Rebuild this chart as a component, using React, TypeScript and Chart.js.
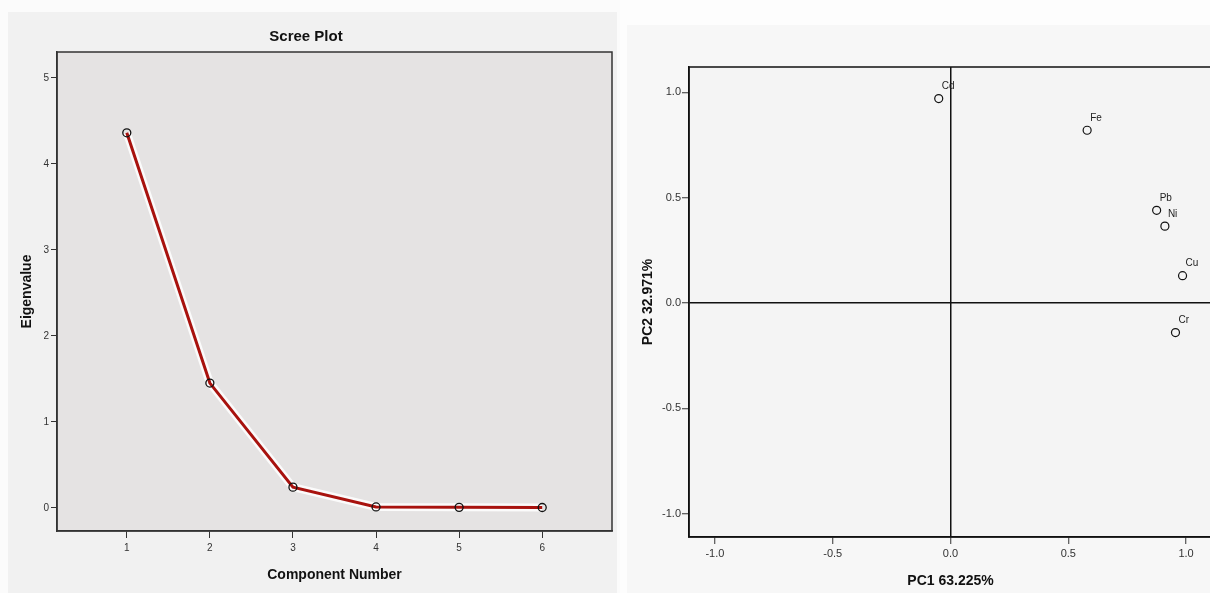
import React, { useEffect, useRef } from "react";
import { Chart, registerables } from "chart.js";

Chart.register(...registerables);

// ---- Scree plot data ----
const components = [1, 2, 3, 4, 5, 6];
const eigenvalues = [4.36, 1.45, 0.24, 0.01, 0.005, 0.003];
const screeXTicks = [1, 2, 3, 4, 5, 6];
const screeYTicks = [0, 1, 2, 3, 4, 5];

// ---- Loading plot data ----
const elements = ["Cd", "Fe", "Pb", "Ni", "Cu", "Cr"];
const pc1 = [-0.05, 0.58, 0.875, 0.91, 0.985, 0.955];
const pc2 = [0.97, 0.82, 0.44, 0.365, 0.13, -0.14];
const loadingTicks = [-1.0, -0.5, 0.0, 0.5, 1.0];

const FONT = "'Liberation Sans Narrow', 'Liberation Sans', Arial, sans-serif";
const FONT_B = "'Liberation Sans', Arial, sans-serif";

const screeBg = {
  id: "screeBg",
  beforeDraw(chart: any) {
    const { ctx, chartArea: a, width, height } = chart;
    ctx.save();
    ctx.fillStyle = "#fbfbfb";
    ctx.fillRect(0, 0, width, height);
    ctx.fillStyle = "#f1f1f1";
    ctx.fillRect(8, 12, 609, height - 12);
    ctx.fillStyle = "#e5e3e3";
    ctx.fillRect(a.left, a.top, a.right - a.left, a.bottom - a.top);
    ctx.restore();
  },
  afterDraw(chart: any) {
    const { ctx, chartArea: a } = chart;
    ctx.save();
    ctx.strokeStyle = "#333";
    ctx.lineWidth = 1.5;
    ctx.strokeRect(a.left, a.top, a.right - a.left, a.bottom - a.top);
    ctx.restore();
  },
};

const loadBg = {
  id: "loadBg",
  beforeDraw(chart: any) {
    const { ctx, chartArea: a, width, height } = chart;
    ctx.save();
    ctx.fillStyle = "#fdfdfd";
    ctx.fillRect(0, 0, width, height);
    ctx.fillStyle = "#f7f7f7";
    ctx.fillRect(7, 25, width - 7, height - 25);
    ctx.fillStyle = "#f4f4f4";
    ctx.fillRect(a.left, a.top, a.right - a.left, a.bottom - a.top);
    ctx.restore();
  },
  afterDraw(chart: any) {
    const { ctx, chartArea: a } = chart;
    ctx.save();
    ctx.strokeStyle = "#111";
    ctx.lineWidth = 1.5;
    ctx.strokeRect(a.left, a.top, a.right - a.left, a.bottom - a.top);
    ctx.restore();
  },
};

const pointLabels = {
  id: "pointLabels",
  afterDatasetsDraw(chart: any) {
    const { ctx } = chart;
    const meta = chart.getDatasetMeta(0);
    ctx.save();
    ctx.font = `10px ${FONT}`;
    ctx.fillStyle = "#222";
    ctx.textAlign = "left";
    ctx.textBaseline = "middle";
    meta.data.forEach((pt: any, i: number) => {
      ctx.fillText(elements[i], pt.x + 3, pt.y - 12);
    });
    ctx.restore();
  },
};

export default function App() {
  const leftRef = useRef<HTMLCanvasElement>(null);
  const rightRef = useRef<HTMLCanvasElement>(null);

  useEffect(() => {
    const screeData = components.map((c, i) => ({ x: c, y: eigenvalues[i] }));
    const left = new Chart(leftRef.current as HTMLCanvasElement, {
      type: "line",
      data: {
        datasets: [
          {
            data: screeData,
            borderColor: "#a8120e",
            borderWidth: 3,
            pointRadius: 4,
            pointBorderColor: "#111",
            pointBorderWidth: 1.3,
            pointBackgroundColor: "rgba(0,0,0,0)",
            tension: 0,
          },
          {
            data: screeData,
            borderColor: "rgba(255,255,255,0.85)",
            borderWidth: 8,
            pointRadius: 0,
            tension: 0,
          },
        ],
      },
      options: {
        animation: false,
        responsive: false,
        devicePixelRatio: 1,
        layout: { padding: { top: 12, left: 0, right: 8, bottom: 0 } },
        plugins: {
          legend: { display: false },
          tooltip: { enabled: false },
          title: {
            display: true,
            text: "Scree Plot",
            font: { size: 15, weight: "bold", family: FONT_B },
            color: "#111",
            padding: { top: 16, bottom: 6 },
          },
        },
        scales: {
          x: {
            type: "linear",
            min: 0.16,
            max: 6.84,
            afterBuildTicks: (s: any) => {
              s.ticks = screeXTicks.map((v) => ({ value: v }));
            },
            afterFit: (s: any) => {
              s.height = 62;
            },
            ticks: {
              font: { size: 10, family: FONT },
              color: "#333",
              padding: 4,
              maxRotation: 0,
              callback: (v: any) => String(v),
            },
            grid: {
              drawOnChartArea: false,
              drawTicks: true,
              tickLength: 7,
              tickColor: "#333",
              tickWidth: 1,
            },
            border: { display: true, color: "#333", width: 1.5 },
            title: {
              display: true,
              text: "Component Number",
              font: { size: 14, weight: "bold", family: FONT_B },
              color: "#111",
              padding: { top: 0, bottom: 9.6 },
            },
          },
          y: {
            type: "linear",
            min: -0.27,
            max: 5.3,
            afterBuildTicks: (s: any) => {
              s.ticks = screeYTicks.map((v) => ({ value: v }));
            },
            afterFit: (s: any) => {
              s.width = 57;
            },
            ticks: {
              font: { size: 10, family: FONT },
              color: "#333",
              padding: 2,
              callback: (v: any) => String(v),
            },
            grid: {
              drawOnChartArea: false,
              drawTicks: true,
              tickLength: 6,
              tickColor: "#333",
              tickWidth: 1,
            },
            border: { display: true, color: "#333", width: 1.5 },
            title: {
              display: true,
              text: "Eigenvalue",
              font: { size: 14, weight: "bold", family: FONT_B },
              color: "#111",
              padding: { top: 18.6, bottom: 0 },
            },
          },
        },
      } as any,
      plugins: [screeBg],
    });

    const loadData = pc1.map((x, i) => ({ x, y: pc2[i] }));
    const right = new Chart(rightRef.current as HTMLCanvasElement, {
      type: "scatter",
      data: {
        datasets: [
          {
            data: loadData,
            pointRadius: 4,
            pointBorderColor: "#111",
            pointBorderWidth: 1.2,
            pointBackgroundColor: "rgba(0,0,0,0)",
          },
        ],
      },
      options: {
        animation: false,
        responsive: false,
        devicePixelRatio: 1,
        layout: { padding: { top: 67, left: 0, right: 8, bottom: 0 } },
        plugins: {
          legend: { display: false },
          tooltip: { enabled: false },
        },
        scales: {
          x: {
            type: "linear",
            min: -1.11,
            max: 1.11,
            afterBuildTicks: (s: any) => {
              s.ticks = loadingTicks.map((v) => ({ value: v }));
            },
            afterFit: (s: any) => {
              s.height = 56;
            },
            ticks: {
              font: { size: 11, family: FONT },
              color: "#333",
              padding: 3,
              maxRotation: 0,
              callback: (v: any) => Number(v).toFixed(1),
            },
            grid: {
              drawOnChartArea: true,
              color: (c: any) => (c.tick && Math.abs(c.tick.value) < 1e-9 ? "#111" : "rgba(0,0,0,0)"),
              lineWidth: 1.5,
              drawTicks: true,
              tickLength: 7,
              tickColor: "#333",
              tickWidth: 1,
            },
            border: { display: true, color: "#111", width: 1.5 },
            title: {
              display: true,
              text: "PC1 63.225%",
              font: { size: 14, weight: "bold", family: FONT_B },
              color: "#111",
              padding: { top: 0, bottom: 3.6 },
            },
          },
          y: {
            type: "linear",
            min: -1.11,
            max: 1.12,
            afterBuildTicks: (s: any) => {
              s.ticks = loadingTicks.map((v) => ({ value: v }));
            },
            afterFit: (s: any) => {
              s.width = 69;
            },
            ticks: {
              font: { size: 11, family: FONT },
              color: "#333",
              padding: 1,
              callback: (v: any) => Number(v).toFixed(1),
            },
            grid: {
              drawOnChartArea: true,
              color: (c: any) => (c.tick && Math.abs(c.tick.value) < 1e-9 ? "#111" : "rgba(0,0,0,0)"),
              lineWidth: 1.5,
              drawTicks: true,
              tickLength: 7,
              tickColor: "#333",
              tickWidth: 1,
            },
            border: { display: true, color: "#111", width: 1.5 },
            title: {
              display: true,
              text: "PC2 32.971%",
              font: { size: 14, weight: "bold", family: FONT_B },
              color: "#111",
              padding: { top: 19.6, bottom: 0 },
            },
          },
        },
      } as any,
      plugins: [loadBg, pointLabels],
    });

    return () => {
      left.destroy();
      right.destroy();
    };
  }, []);

  return (
    <div
      style={{
        position: "fixed",
        left: 0,
        top: 0,
        width: 1210,
        height: 593,
        overflow: "hidden",
        background: "#fdfdfd",
      }}
    >
      <canvas
        ref={leftRef}
        width={620}
        height={593}
        style={{ position: "absolute", left: 0, top: 0, width: 620, height: 593, display: "block" }}
      />
      <canvas
        ref={rightRef}
        width={600}
        height={593}
        style={{ position: "absolute", left: 620, top: 0, width: 600, height: 593, display: "block" }}
      />
    </div>
  );
}
